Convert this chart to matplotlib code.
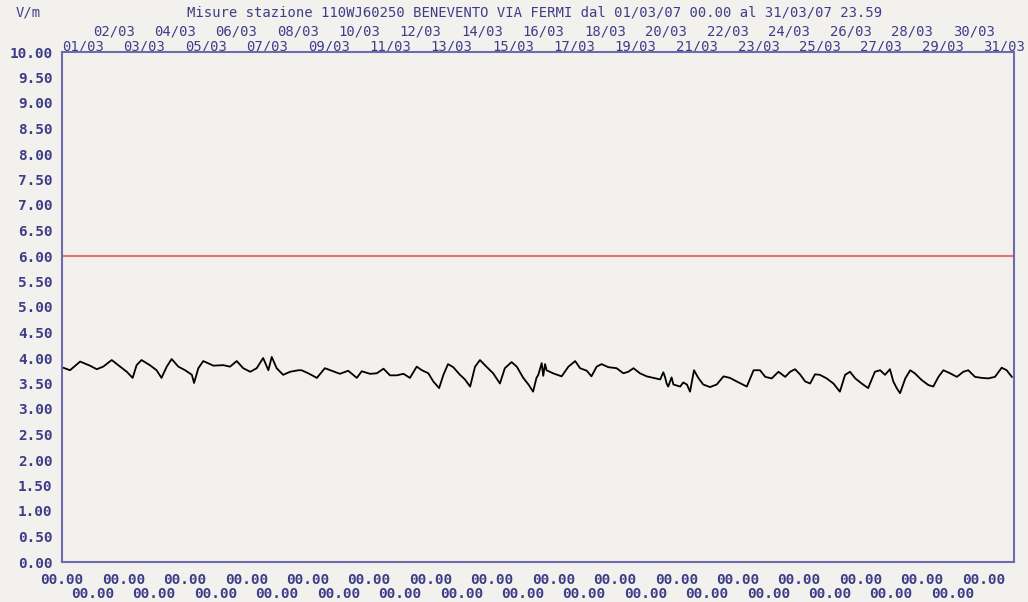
'''
Electric field measurements at station 110WJ60250, Benevento via Fermi,
March 2007, with the 6 V/m attention level.
'''

import numpy as np
import matplotlib.pyplot as plt

# time in days since 01/03/07 00.00, field in V/m
t = [0.00, 0.04, 0.26, 0.59, 0.91, 1.13, 1.34, 1.62, 1.83, 2.11, 2.30, 2.43,
     2.59, 2.86, 3.08, 3.24, 3.41, 3.57, 3.79, 4.01, 4.23, 4.30, 4.44, 4.60,
     4.93, 5.25, 5.47, 5.69, 5.90, 6.13, 6.34, 6.55, 6.72, 6.83, 6.99, 7.20,
     7.43, 7.70, 7.80, 8.02, 8.30, 8.56, 8.78, 9.05, 9.32, 9.60, 9.76, 10.03,
     10.25, 10.47, 10.68, 10.90, 11.12, 11.33, 11.55, 11.72, 11.93, 12.09,
     12.28, 12.42, 12.57, 12.74, 12.96, 13.12, 13.29, 13.45, 13.61, 13.82,
     14.04, 14.26, 14.42, 14.64, 14.81, 15.02, 15.19, 15.34, 15.45, 15.51,
     15.62, 15.67, 15.73, 15.78, 15.99, 16.27, 16.49, 16.71, 16.87, 17.09,
     17.24, 17.41, 17.57, 17.79, 18.06, 18.28, 18.44, 18.61, 18.82, 19.04,
     19.26, 19.48, 19.58, 19.63, 19.69, 19.74, 19.85, 19.91, 20.13, 20.23,
     20.35, 20.45, 20.58, 20.72, 20.88, 21.10, 21.32, 21.54, 21.75, 21.97,
     22.30, 22.52, 22.73, 22.90, 23.11, 23.33, 23.55, 23.71, 23.87, 24.03,
     24.20, 24.36, 24.52, 24.68, 24.90, 25.12, 25.33, 25.50, 25.66, 25.83,
     26.04, 26.25, 26.47, 26.64, 26.80, 26.96, 27.07, 27.18, 27.29, 27.46,
     27.62, 27.77, 27.99, 28.21, 28.37, 28.54, 28.70, 28.92, 29.14, 29.35,
     29.51, 29.73, 29.95, 30.16, 30.38, 30.60, 30.76, 30.93]
field = [3.80, 3.81, 3.76, 3.93, 3.85, 3.78, 3.83, 3.96, 3.86, 3.73, 3.61, 3.86,
         3.96, 3.86, 3.76, 3.61, 3.83, 3.98, 3.83, 3.76, 3.67, 3.51, 3.80, 3.94,
         3.85, 3.86, 3.83, 3.94, 3.80, 3.73, 3.80, 4.00, 3.76, 4.02, 3.80, 3.67,
         3.73, 3.76, 3.76, 3.70, 3.61, 3.80, 3.75, 3.69, 3.75, 3.61, 3.74, 3.69,
         3.70, 3.79, 3.66, 3.66, 3.69, 3.61, 3.83, 3.76, 3.70, 3.54,
         3.41, 3.67, 3.88, 3.82, 3.67, 3.58, 3.44, 3.83, 3.96, 3.83,
         3.70, 3.50, 3.80, 3.92, 3.83, 3.61, 3.48, 3.34, 3.61, 3.67,
         3.90, 3.65, 3.88, 3.76, 3.70, 3.64, 3.83, 3.94, 3.80, 3.75,
         3.64, 3.83, 3.88, 3.82, 3.80, 3.70, 3.73, 3.80, 3.70, 3.64,
         3.61, 3.58, 3.72, 3.64, 3.50, 3.44, 3.62, 3.48, 3.44, 3.52,
         3.48, 3.34, 3.76, 3.61, 3.48, 3.43, 3.48, 3.64, 3.61, 3.54,
         3.44, 3.76, 3.76, 3.63, 3.60, 3.73, 3.63, 3.73, 3.78, 3.68,
         3.54, 3.50, 3.68, 3.67, 3.60, 3.50, 3.34, 3.67, 3.73, 3.60,
         3.50, 3.41, 3.73, 3.76, 3.67, 3.78, 3.54, 3.41, 3.31, 3.60,
         3.76, 3.70, 3.57, 3.47, 3.44, 3.63, 3.76, 3.70, 3.63, 3.73,
         3.76, 3.63, 3.61, 3.60, 3.63, 3.81, 3.76, 3.63]

# attention level
limit = 6.0

days = np.arange(1, 32)
odd = days[days % 2 == 1]
even = days[days % 2 == 0]
yticks = np.arange(0, 10.01, 0.5)

bg = '#f3f1ee'
txt = '#3e3e88'
frame = '#6c6cac'
mono = 'DejaVu Sans Mono'
fs = 10.4     # axis numbers
fst = 10.0    # title and dates, tighter rows up there

fig = plt.figure(figsize=(10.28, 6.02), dpi=100, facecolor=bg)
ax = fig.add_axes([62/1028, 40/602, 952/1028, 510/602])
ax.set_facecolor(bg)

ax.axhline(limit, color='#e8736c', lw=1.5)
ax.plot(t, field, color='k', lw=1.3)

ax.set_xlim(0, 31)
ax.set_ylim(0, 10)
for s in ax.spines.values():
    s.set_color(frame)
    s.set_linewidth(1.5)

# y axis
ax.set_yticks(yticks)
ax.set_yticklabels(['%.2f' % v for v in yticks], family=mono,
                   fontsize=fs, fontweight='bold', color=txt)
ax.tick_params(axis='y', length=0, pad=7)

# bottom: hours, odd days on the first row, even days on the second
ax.set_xticks(odd - 1)
ax.set_xticklabels(['00.00'] * len(odd), family=mono, fontsize=fs,
                   fontweight='bold', color=txt)
ax.set_xticks(even - 1, minor=True)
ax.set_xticklabels(['00.00'] * len(even), minor=True, family=mono,
                   fontsize=fs, fontweight='bold', color=txt)
ax.tick_params(axis='x', which='major', length=0, pad=8)
ax.tick_params(axis='x', which='minor', length=0, pad=18)

# top: dates, left aligned on the tick, odd days next to the frame
top = ax.secondary_xaxis('top')
top.set_xticks(odd - 1)
top.set_xticklabels(['%02d/03' % d for d in odd], family=mono, fontsize=fst,
                    color=txt, ha='left')
top.set_xticks(even - 1, minor=True)
top.set_xticklabels(['%02d/03' % d for d in even], minor=True, family=mono,
                    fontsize=fst, color=txt, ha='left')
top.tick_params(which='major', length=0, pad=-1)
top.tick_params(which='minor', length=0, pad=10)
top.spines['top'].set_visible(False)

fig.text(535/1028, 1 - 13/602,
         'Misure stazione 110WJ60250 BENEVENTO VIA FERMI dal 01/03/07 00.00 al 31/03/07 23.59',
         family=mono, fontsize=fst, color=txt, ha='center', va='center')
fig.text(28/1028, 1 - 13/602, 'V/m', family=mono, fontsize=fst,
         color=txt, ha='center', va='center')

fig.savefig('out.png', dpi=100, facecolor=bg)
